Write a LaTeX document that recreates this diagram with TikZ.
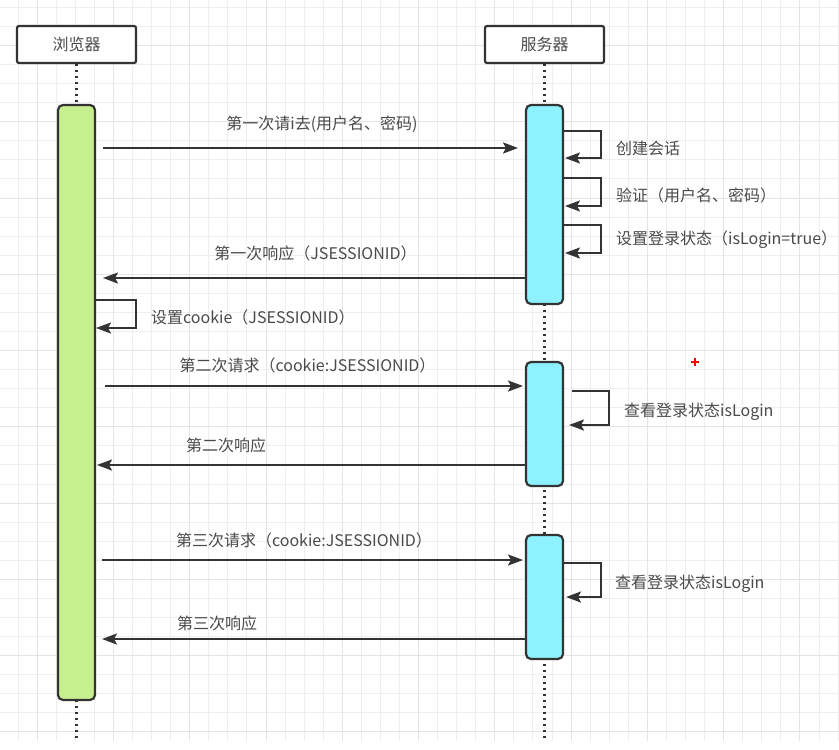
\documentclass[tikz,border=0pt]{standalone}
\usepackage{fontspec}
\setmainfont{Noto Sans CJK SC}
\usetikzlibrary{arrows.meta}

\definecolor{ink}{HTML}{333333}
\definecolor{txt}{HTML}{4A4A4A}
\definecolor{gridminor}{HTML}{EEEEEE}
\definecolor{gridmajor}{HTML}{E4E4E4}
\definecolor{actgreen}{HTML}{C6EF8E}
\definecolor{actcyan}{HTML}{8DF1FF}

\begin{document}
\begin{tikzpicture}[x=1pt,y=-1pt,
  every node/.style={font=\fontsize{16}{19}\selectfont, text=txt},
  actor/.style={draw=ink, line width=2.2pt, fill=white, rounded corners=2pt,
                minimum width=119pt, minimum height=37pt, inner sep=0pt},
  actbar/.style={draw=ink, line width=2.2pt, rounded corners=5pt,
                 minimum width=37pt, inner sep=0pt},
  lifeline/.style={ink, line width=2.2pt, dash pattern=on 2pt off 4pt},
  msg/.style={ink, line width=2.2pt, -{Stealth[length=15pt,width=11pt,inset=3pt]}},
  lbl/.style={inner sep=0pt},
]
\useasboundingbox (0,0) rectangle (839,750);
\fill[white] (0,0) rectangle (839,750);

% background grid
\foreach \i in {0,...,43}
  \draw[gridminor, line width=1pt] ({18.1+19.07*\i},0) -- ({18.1+19.07*\i},741);
\foreach \j in {0,...,38}
  \draw[gridminor, line width=1pt] (0,{7.3+19.07*\j}) -- (839,{7.3+19.07*\j});
\foreach \i in {1,5,...,41}
  \draw[gridmajor, line width=1pt] ({18.1+19.07*\i},0) -- ({18.1+19.07*\i},741);
\foreach \j in {2,6,...,38}
  \draw[gridmajor, line width=1pt] (0,{7.3+19.07*\j}) -- (839,{7.3+19.07*\j});

% participants
\node[actor] (browser) at (76.5,44.5) {浏览器};
\node[actor] (server)  at (544.5,44.5) {服务器};

% lifelines
\coordinate (bend) at (76.5,742);
\coordinate (send) at (544.5,742);
\draw[lifeline] (browser.south) -- (bend);
\draw[lifeline] (server.south) -- (send);

% activation bars
\node[actbar, fill=actgreen, minimum height=595pt] (bact)  at (76.5,402.5) {};
\node[actbar, fill=actcyan,  minimum height=199pt] (sact1) at (544.5,204.5) {};
\node[actbar, fill=actcyan,  minimum height=124pt] (sact2) at (544.5,424) {};
\node[actbar, fill=actcyan,  minimum height=124pt] (sact3) at (544.5,597) {};

% message end points
\coordinate (r1a) at (103,148);  \coordinate (r1b) at (518,148);
\coordinate (p1a) at (526,278);  \coordinate (p1b) at (103,278);
\coordinate (r2a) at (105,386);  \coordinate (r2b) at (523,386);
\coordinate (p2a) at (526,465);  \coordinate (p2b) at (97,465);
\coordinate (r3a) at (102,560);  \coordinate (r3b) at (523,560);
\coordinate (p3a) at (526,639);  \coordinate (p3b) at (102,639);

% self-call end points
\coordinate (c1a) at (563,131);  \coordinate (c1b) at (565,158);
\coordinate (c2a) at (563,178);  \coordinate (c2b) at (565,206);
\coordinate (c3a) at (563,225);  \coordinate (c3b) at (565,253);
\coordinate (cka) at (95,300);   \coordinate (ckb) at (96,328);
\coordinate (q2a) at (572,391);  \coordinate (q2b) at (569,425);
\coordinate (q3a) at (563,563);  \coordinate (q3b) at (566,597);

% messages
\draw[msg] (r1a) -- (r1b);
\draw[msg] (p1a) -- (p1b);
\draw[msg] (r2a) -- (r2b);
\draw[msg] (p2a) -- (p2b);
\draw[msg] (r3a) -- (r3b);
\draw[msg] (p3a) -- (p3b);

% self calls
\draw[msg] (c1a) -- ++(38,0) |- (c1b);
\draw[msg] (c2a) -- ++(38,0) |- (c2b);
\draw[msg] (c3a) -- ++(38,0) |- (c3b);
\draw[msg] (cka) -- ++(41,0) |- (ckb);
\draw[msg] (q2a) -- ++(37,0) |- (q2b);
\draw[msg] (q3a) -- ++(38,0) |- (q3b);

% message labels
\node[lbl] (t1)  at (322,124)   {第一次请i去(用户名、密码)};
\node[lbl] (t2)  at (315.5,253) {第一次响应（JSESSIONID）};
\node[lbl] (t3)  at (307.5,365) {第二次请求（cookie:JSESSIONID）};
\node[lbl] (t4)  at (226,445)   {第二次响应};
\node[lbl] (t5)  at (304,540)   {第三次请求（cookie:JSESSIONID）};
\node[lbl] (t6)  at (217,623)   {第三次响应};

% self-call labels
\node[lbl, anchor=west] (s1) at (616,148) {创建会话};
\node[lbl, anchor=west] (s2) at (616,195) {验证（用户名、密码）};
\node[lbl, anchor=west] (s3) at (616,240) {设置登录状态（isLogin=true）};
\node[lbl, anchor=west] (s4) at (151,317) {设置cookie（JSESSIONID）};
\node[lbl, anchor=west] (s5) at (624,412) {查看登录状态isLogin};
\node[lbl, anchor=west] (s6) at (615,584) {查看登录状态isLogin};

% cursor mark
\draw[red, line width=1.5pt] (691,362) -- (699,362) (695,358) -- (695,366);
\end{tikzpicture}
\end{document}
